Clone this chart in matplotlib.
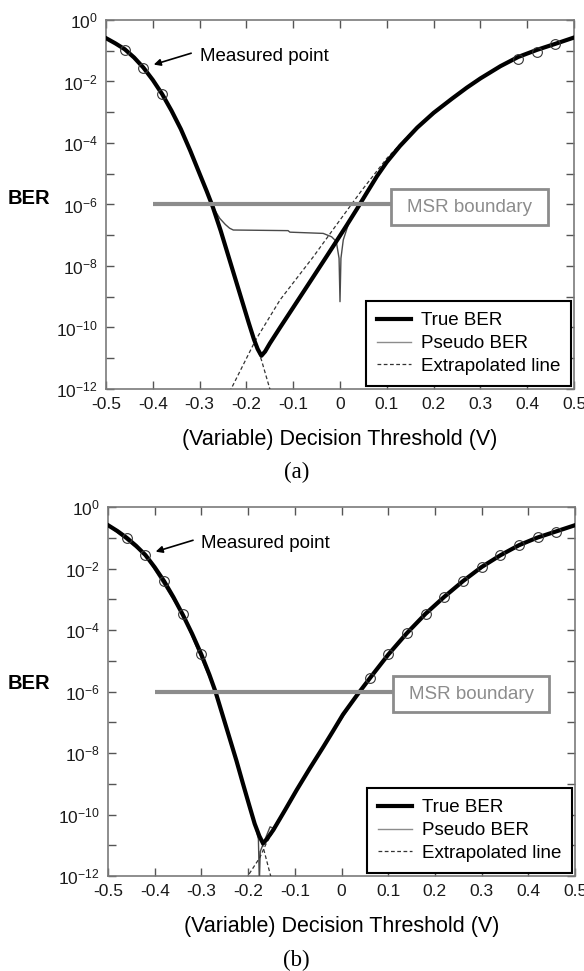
import matplotlib
matplotlib.use("Agg")
import matplotlib.pyplot as plt
import numpy as np
from matplotlib.patches import Rectangle

plt.rcParams['font.family'] = ['Liberation Sans', 'DejaVu Sans']
plt.rcParams['mathtext.default'] = 'regular'

# ---------------- panel (a) data (x in V, BER as log10) ----------------
a_true_x = [-0.50, -0.48, -0.46, -0.44, -0.42, -0.40, -0.38, -0.36, -0.34, -0.32,
            -0.30, -0.285, -0.272, -0.255, -0.239, -0.223, -0.207, -0.195, -0.184,
            -0.176, -0.168, -0.16, -0.15, -0.128, -0.10, -0.057, -0.03, -0.007,
            0.015, 0.036, 0.058, 0.079, 0.10, 0.128, 0.165, 0.20, 0.24, 0.271,
            0.30, 0.343, 0.381, 0.421, 0.461, 0.50]
a_true_y = [-0.59, -0.76, -0.95, -1.22, -1.55, -1.95, -2.41, -2.95, -3.55, -4.25,
            -5.0, -5.56, -6.07, -6.85, -7.65, -8.45, -9.25, -9.85, -10.38,
            -10.7, -10.92, -10.78, -10.52, -10.0, -9.35, -8.35, -7.72, -7.18,
            -6.66, -6.15, -5.6, -5.08, -4.62, -4.1, -3.5, -3.02, -2.55, -2.2,
            -1.9, -1.5, -1.2, -0.97, -0.77, -0.57]

a_pseudo_x = [-0.50, -0.46, -0.42, -0.38, -0.34, -0.30, -0.272, -0.257, -0.245, -0.236,
              -0.228, -0.111, -0.107, -0.036, -0.018, -0.008, -0.002, 0.0, 0.002,
              0.007, 0.021, 0.032, 0.058, 0.10, 0.165, 0.24, 0.30, 0.381, 0.50]
a_pseudo_y = [-0.59, -0.95, -1.55, -2.41, -3.55, -5.0, -6.07, -6.45, -6.65, -6.77,
              -6.83, -6.85, -6.90, -6.94, -7.05, -7.2, -7.75, -9.16, -7.75,
              -7.15, -6.5, -6.2, -5.6, -4.62, -3.5, -2.55, -1.9, -1.2, -0.57]

a_extl_x = [-0.30, -0.272, -0.239, -0.207, -0.184, -0.168, -0.148]
a_extl_y = [-5.0, -6.07, -7.65, -9.25, -10.38, -11.05, -12.1]
a_extr_x = [-0.236, -0.18, -0.128, -0.057, -0.007, 0.046, 0.10, 0.15, 0.20, 0.25]
a_extr_y = [-12.1, -10.4, -9.1, -7.7, -6.65, -5.55, -4.5, -3.7, -3.0, -2.45]

a_meas_x = [-0.46, -0.42, -0.38, 0.38, 0.42, 0.46]
a_meas_y = [-0.97, -1.55, -2.41, -1.28, -1.03, -0.79]

# ---------------- panel (b) data ----------------
b_true_x = [-0.50, -0.48, -0.46, -0.44, -0.42, -0.40, -0.38, -0.36, -0.34, -0.32,
            -0.30, -0.283, -0.27, -0.255, -0.239, -0.225, -0.211, -0.198, -0.186,
            -0.176, -0.168, -0.16, -0.146, -0.12, -0.096, -0.068, -0.039, -0.018,
            0.003, 0.034, 0.064, 0.10, 0.14, 0.18, 0.22, 0.26, 0.30, 0.34, 0.38,
            0.42, 0.46, 0.50]
b_true_y = [-0.59, -0.78, -1.0, -1.26, -1.56, -1.96, -2.41, -2.93, -3.5, -4.12,
            -4.8, -5.45, -6.0, -6.75, -7.55, -8.25, -9.0, -9.68, -10.3,
            -10.7, -10.94, -10.8, -10.5, -9.83, -9.2, -8.5, -7.8, -7.28,
            -6.75, -6.1, -5.5, -4.8, -4.1, -3.47, -2.92, -2.41, -1.95, -1.57, -1.24,
            -0.99, -0.79, -0.59]

b_pseudo_x = [-0.50, -0.42, -0.34, -0.27, -0.239, -0.211, -0.186, -0.178, -0.176,
              -0.174, -0.165, -0.153, -0.146, -0.096, -0.039, 0.034, 0.10, 0.18, 0.26,
              0.34, 0.42, 0.50]
b_pseudo_y = [-0.59, -1.56, -3.5, -6.0, -7.55, -9.0, -10.3, -10.8, -12.2,
              -11.2, -10.85, -10.4, -10.45, -9.2, -7.8, -6.1, -4.8, -3.47, -2.41,
              -1.57, -0.99, -0.59]

b_extl_x = [-0.211, -0.186, -0.168, -0.150]
b_extl_y = [-9.0, -10.3, -11.05, -12.1]
b_extr_x = [-0.205, -0.175, -0.16, -0.146, -0.096]
b_extr_y = [-12.1, -11.4, -10.9, -10.55, -9.25]

b_meas_x = [-0.46, -0.42, -0.38, -0.34, -0.30,
            0.06, 0.10, 0.14, 0.18, 0.22, 0.26, 0.30, 0.34, 0.38, 0.42, 0.46]
b_meas_y = [-1.0, -1.56, -2.41, -3.48, -4.79,
            -5.57, -4.78, -4.11, -3.47, -2.92, -2.41, -1.94, -1.57, -1.24, -0.99, -0.80]

x_ticks = [-0.5, -0.4, -0.3, -0.2, -0.1, 0, 0.1, 0.2, 0.3, 0.4, 0.5]
x_tick_labels = ['-0.5', '-0.4', '-0.3', '-0.2', '-0.1', '0', '0.1', '0.2', '0.3', '0.4', '0.5']
y_major = [0, -2, -4, -6, -8, -10, -12]
y_minor = [-1, -3, -5, -7, -9, -11]

GRAY = '#8c8c8c'
SPINE = '#7a7a7a'


def draw_panel(ax, tx, ty, px, py, elx, ely, erx, ery, mx, my):
    p10 = lambda v: np.power(10.0, np.asarray(v, dtype=float))
    ax.set_yscale('log')
    ax.plot(px, p10(py), color='#4a4a4a', lw=1.0, label='Pseudo BER', zorder=3)
    ax.plot(elx, p10(ely), color='#333333', lw=0.9, ls=(0, (3, 2)), zorder=3)
    ax.plot(erx, p10(ery), color='#333333', lw=0.9, ls=(0, (3, 2)),
            label='Extrapolated line', zorder=3)
    ax.plot(tx, p10(ty), color='black', lw=3.0, label='True BER', zorder=4,
            solid_joinstyle='round')
    ax.plot(mx, p10(my), ls='none', marker='o', ms=7, mfc='none', mec='#333333',
            mew=0.8, zorder=5)

    # MSR boundary line and box
    ax.plot([-0.40, 0.11], [1e-6, 1e-6], color=GRAY, lw=3, zorder=6,
            solid_capstyle='butt')
    ax.add_patch(Rectangle((0.11, 10 ** -6.68), 0.335, 10 ** -5.5 - 10 ** -6.68,
                           fill=True, fc='white', ec=GRAY, lw=2, zorder=7))
    ax.text(0.2775, 10 ** -6.09, 'MSR boundary', color=GRAY, fontsize=13.5,
            ha='center', va='center', zorder=8)

    ax.annotate('', xy=(-0.398, 10 ** -1.45), xytext=(-0.318, 10 ** -1.08),
                arrowprops=dict(arrowstyle='-|>', color='black', lw=1.2,
                                mutation_scale=10, shrinkA=0, shrinkB=0), zorder=8)
    ax.text(-0.30, 10 ** -1.19, 'Measured point', fontsize=13.5, ha='left',
            va='center', zorder=8)

    ax.set_xlim(-0.5, 0.5)
    ax.set_ylim(1e-12, 1)
    ax.set_xticks(x_ticks)
    ax.set_xticklabels(x_tick_labels)
    ax.set_yticks([10.0 ** e for e in y_major])
    ax.set_yticklabels([r'$10^{%d}$' % e for e in y_major])
    ax.set_yticks([10.0 ** e for e in y_minor], minor=True)
    ax.set_yticklabels([], minor=True)
    ax.tick_params(which='both', direction='in', top=True, right=True, length=6,
                   width=1, color='#555555', labelsize=12.5, labelcolor='#1a1a1a')
    ax.tick_params(axis='x', pad=6)
    ax.tick_params(axis='y', pad=6)
    for s in ax.spines.values():
        s.set_color(SPINE)
        s.set_linewidth(1.2)

    h, l = ax.get_legend_handles_labels()
    order = [l.index('True BER'), l.index('Pseudo BER'), l.index('Extrapolated line')]
    leg = ax.legend([h[i] for i in order], [l[i] for i in order], loc='lower right',
                    fontsize=13.5, frameon=True, fancybox=False, framealpha=1,
                    edgecolor='black', handlelength=1.8, handletextpad=0.5,
                    labelspacing=0.3, borderpad=0.6, borderaxespad=0.15)
    leg.get_frame().set_linewidth(1.5)
    leg.legend_handles[1].set_color(GRAY)
    leg.set_zorder(10)

    ax.set_xlabel('(Variable) Decision Threshold (V)', fontsize=15.5, labelpad=12)


fig = plt.figure(figsize=(5.84, 9.71), dpi=100)
ax1 = fig.add_axes([0.1815, 0.5994, 0.8014, 0.3800])
ax2 = fig.add_axes([0.1850, 0.0978, 0.7996, 0.3800])

draw_panel(ax1, a_true_x, a_true_y, a_pseudo_x, a_pseudo_y, a_extl_x, a_extl_y,
           a_extr_x, a_extr_y, a_meas_x, a_meas_y)
draw_panel(ax2, b_true_x, b_true_y, b_pseudo_x, b_pseudo_y, b_extl_x, b_extl_y,
           b_extr_x, b_extr_y, b_meas_x, b_meas_y)

fig.text(29 / 584, 1 - 198 / 971, 'BER', fontsize=14.5, fontweight='bold',
         ha='center', va='center')
fig.text(29 / 584, 1 - 683 / 971, 'BER', fontsize=14.5, fontweight='bold',
         ha='center', va='center')

fig.text(0.508, 1 - 472 / 971, '(a)', fontsize=16.5, ha='center', va='center',
         family=['Liberation Serif', 'DejaVu Serif'])
fig.text(0.508, 1 - 960 / 971, '(b)', fontsize=16.5, ha='center', va='center',
         family=['Liberation Serif', 'DejaVu Serif'])

fig.savefig('out.png', dpi=100)
